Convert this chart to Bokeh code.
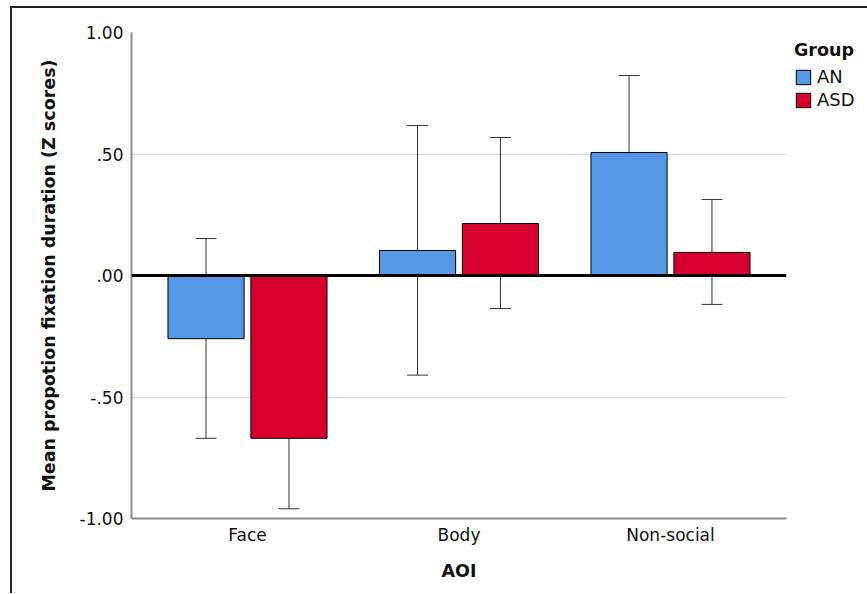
from bokeh.plotting import figure
from bokeh.models import (ColumnDataSource, FactorRange, Whisker, TeeHead, Span,
                          Legend, LegendItem, FixedTicker)
from bokeh.transform import dodge
from bokeh.embed import file_html
from bokeh.resources import INLINE

categories = ["Face", "Body", "Non-social"]
groups = ["AN", "ASD"]
an_mean = [-0.26, 0.103, 0.506]
an_upper = [0.152, 0.617, 0.823]
an_lower = [-0.67, -0.41, 0.189]
asd_mean = [-0.67, 0.214, 0.095]
asd_upper = [-0.395, 0.568, 0.313]
asd_lower = [-0.96, -0.136, -0.119]
y_ticks = [-1.0, -0.5, 0.0, 0.5, 1.0]
y_tick_labels = ["-1.00", "-.50", ".00", ".50", "1.00"]

FONT = "DejaVu Sans"
BLUE = "#5697E6"
RED = "#D5002F"

src_an = ColumnDataSource(dict(aoi=categories, mean=an_mean, upper=an_upper, lower=an_lower))
src_asd = ColumnDataSource(dict(aoi=categories, mean=asd_mean, upper=asd_upper, lower=asd_lower))

p = figure(x_range=FactorRange(factors=categories, range_padding=0.0323),
           y_range=(-1.0, 1.0), frame_width=655, frame_height=486,
           output_backend="svg", toolbar_location=None,
           min_border_left=119, min_border_top=24, min_border_right=80,
           min_border_bottom=75)
p.styles = {"border-top": "2px solid #222", "border-left": "2px solid #222",
            "margin-left": "10px", "margin-top": "6px"}
p.outline_line_color = None
p.background_fill_color = "white"

off = 0.196
w = 0.36
r_an = p.vbar(x=dodge("aoi", -off, range=p.x_range), top="mean", bottom=0, width=w,
              source=src_an, fill_color=BLUE, line_color="black", line_width=1)
r_asd = p.vbar(x=dodge("aoi", off, range=p.x_range), top="mean", bottom=0, width=w,
               source=src_asd, fill_color=RED, line_color="black", line_width=1)

for src, o in ((src_an, -off), (src_asd, off)):
    wh = Whisker(base=dodge("aoi", o, range=p.x_range), upper="upper", lower="lower",
                 source=src, line_color="#333333", line_width=1,
                 upper_head=TeeHead(size=21, line_color="#333333", line_width=1),
                 lower_head=TeeHead(size=21, line_color="#333333", line_width=1))
    p.add_layout(wh)

p.add_layout(Span(location=0, dimension="width", line_color="black", line_width=3))

p.xgrid.grid_line_color = None
p.ygrid.ticker = FixedTicker(ticks=[-0.5, 0.5, 1.0])
p.ygrid.grid_line_color = "#d9d9d9"
p.ygrid.grid_line_width = 1

p.yaxis.ticker = FixedTicker(ticks=y_ticks)
p.yaxis.major_label_overrides = {t: l for t, l in zip(y_ticks, y_tick_labels)}
for ax in (p.xaxis[0], p.yaxis[0]):
    ax.axis_line_color = "#8c8c8c"
    ax.axis_line_width = 2
    ax.major_tick_line_color = None
    ax.minor_tick_line_color = None
    ax.major_tick_out = 0
    ax.major_tick_in = 0
    ax.major_label_text_font = FONT
    ax.major_label_text_font_size = "17px"
    ax.major_label_text_color = "#111111"
    ax.axis_label_text_font = FONT
    ax.axis_label_text_font_size = "17.5px"
    ax.axis_label_text_font_style = "bold"
    ax.axis_label_text_color = "#111111"

p.yaxis.axis_label = "Mean propotion fixation duration (Z scores)"
p.yaxis.major_label_standoff = 8
p.yaxis.axis_label_standoff = 18
p.xaxis.axis_label = "AOI"
p.xaxis.major_label_standoff = 6
p.xaxis.axis_label_standoff = 13

legend = Legend(items=[LegendItem(label=groups[0], renderers=[r_an]),
                       LegendItem(label=groups[1], renderers=[r_asd])],
                title="Group", location="top_left", orientation="vertical",
                padding=0, margin=8, spacing=2,
                glyph_width=18, glyph_height=18, label_height=18,
                label_standoff=5, title_standoff=6,
                border_line_alpha=0, background_fill_alpha=0)
legend.label_text_font = FONT
legend.label_text_font_size = "18px"
legend.title_text_font = FONT
legend.title_text_font_size = "17.5px"
legend.title_text_font_style = "bold"
legend.label_text_color = "#111111"
legend.title_text_color = "#111111"
p.add_layout(legend, "right")

open("out.html", "w").write(file_html(p, INLINE))
